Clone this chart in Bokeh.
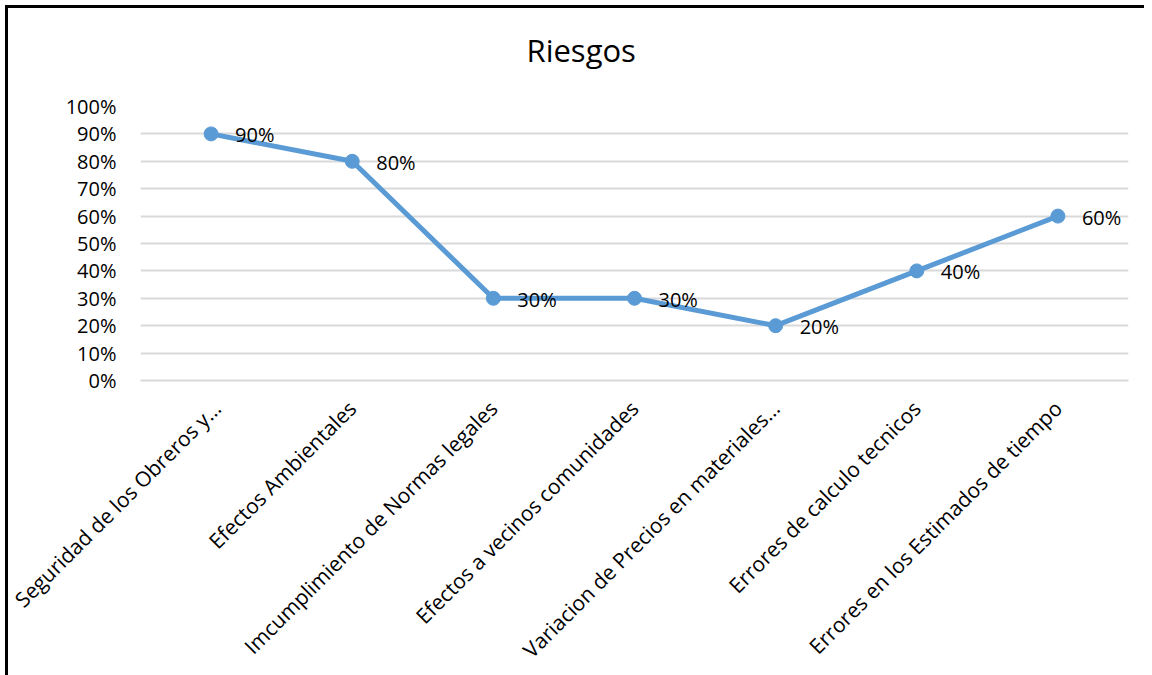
import math
from bokeh.plotting import figure
from bokeh.models import FactorRange, Range1d, FixedTicker, NumeralTickFormatter, ColumnDataSource
from bokeh.core.properties import value
from bokeh.embed import file_html
from bokeh.resources import INLINE

categories = [
    "Seguridad de los Obreros y…",
    "Efectos Ambientales",
    "Imcumplimiento de Normas legales",
    "Efectos a vecinos comunidades",
    "Variacion de Precios en materiales…",
    "Errores de calculo tecnicos",
    "Errores en los Estimados de tiempo",
]
values = [0.9, 0.8, 0.3, 0.3, 0.2, 0.4, 0.6]
y_ticks = [0, 0.1, 0.2, 0.3, 0.4, 0.5, 0.6, 0.7, 0.8, 0.9, 1.0]
title_text = "Riesgos"

labels = [f"{round(v * 100)}%" for v in values]
src = ColumnDataSource(dict(x=categories, y=values, t=labels))

FONT = "Open Sans"
LINE = "#5B9BD5"
GRID = "#D9D9D9"

p = figure(
    x_range=FactorRange(*categories),
    y_range=Range1d(0, 1),
    frame_width=988, frame_height=274,
    min_border_left=132, min_border_right=16,
    min_border_top=98, min_border_bottom=287,
    output_backend="svg", toolbar_location=None,
)
p.styles = {"border-left": "3px solid black", "border-top": "3px solid black",
            "margin-left": "5px", "margin-top": "5px"}

# trailing empty line lifts the title away from the plot frame
p.title.text = title_text + "\n"
p.title.align = "left"
p.title.offset = 386
p.title.vertical_align = "top"
p.title.text_line_height = 0.8
p.title.text_font = FONT
p.title.text_font_size = "31px"
p.title.text_font_style = "normal"
p.title.text_color = "black"
p.title.standoff = 0

p.outline_line_color = None
p.xgrid.grid_line_color = None
p.ygrid.grid_line_color = GRID
p.ygrid.grid_line_width = 2
p.yaxis.ticker = FixedTicker(ticks=y_ticks)
p.yaxis.formatter = NumeralTickFormatter(format="0%")
p.yaxis.axis_line_color = None
p.yaxis.major_tick_line_color = None
p.yaxis.minor_tick_line_color = None
p.yaxis.major_tick_out = 0
p.yaxis.major_tick_in = 0
p.yaxis.major_label_standoff = 24
p.yaxis.major_label_text_font = FONT
p.yaxis.major_label_text_font_size = "20px"
p.yaxis.major_label_text_color = "black"

p.xaxis.axis_line_color = GRID
p.xaxis.axis_line_width = 2
p.xaxis.major_tick_line_color = None
p.xaxis.minor_tick_line_color = None
p.xaxis.major_tick_out = 0
p.xaxis.major_tick_in = 0
p.xaxis.major_label_orientation = math.pi / 4
p.xaxis.major_label_standoff = 24
p.xaxis.major_label_text_font = FONT
p.xaxis.major_label_text_font_size = "21px"
p.xaxis.major_label_text_color = "black"

p.line("x", "y", source=src, line_color=LINE, line_width=5)
p.scatter("x", "y", source=src, size=14, fill_color=LINE, line_color=LINE)
p.text("x", "y", text="t", source=src, x_offset=24, y_offset=1,
       text_align="left", text_baseline="middle",
       text_font=value(FONT), text_font_size="20px", text_color="black")

open("out.html", "w").write(file_html(p, INLINE))
